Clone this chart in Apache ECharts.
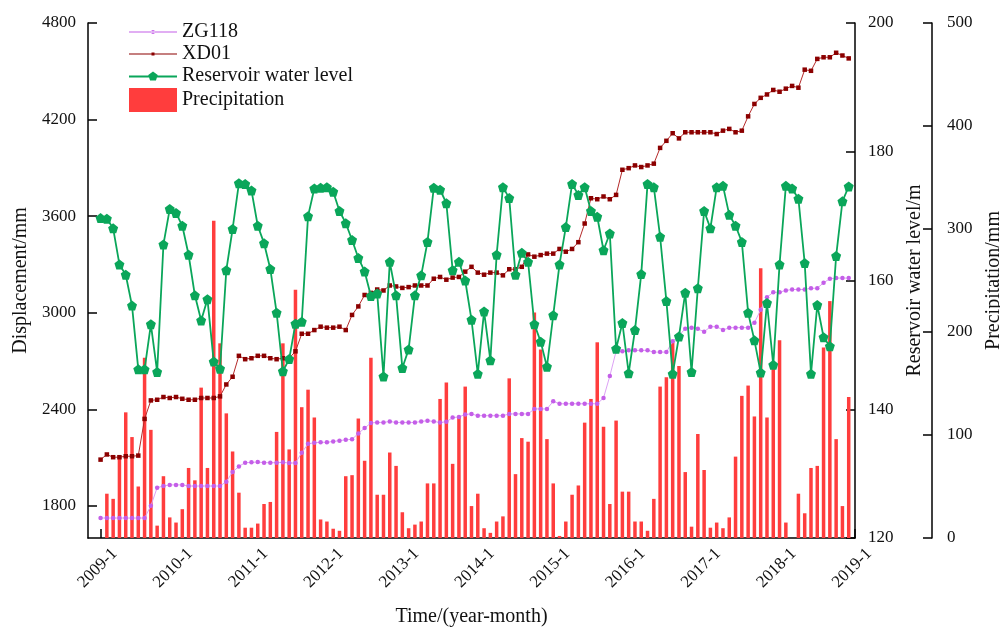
<!DOCTYPE html>
<html><head><meta charset="utf-8">
<script src="https://cdn.jsdelivr.net/npm/echarts@6/dist/echarts.min.js"></script>
<style>html,body{margin:0;padding:0;background:#fff}#c{width:1000px;height:633px}</style>
</head><body><div id="c"></div>
<script>
// Monthly data, index 0 = 2009-1 ... 119 = 2018-12
const yearTicks = ['2009-1','2010-1','2011-1','2012-1','2013-1','2014-1','2015-1','2016-1','2017-1','2018-1','2019-1'];
const dispTicks = [1800,2400,3000,3600,4200,4800];

const zg118 = [1724,1724,1724,1724,1724,1724,1724,1724,1800,1913,1923,1930,1930,1930,1923,1923,1923,1923,1923,1923,
1950,2010,2045,2068,2070,2072,2068,2068,2068,2070,2066,2066,2130,2185,2192,2195,2195,2200,2205,2210,
2213,2250,2283,2315,2318,2318,2324,2318,2318,2318,2318,2324,2329,2324,2318,2322,2348,2352,2368,2371,
2360,2360,2360,2360,2360,2371,2371,2371,2371,2402,2402,2402,2449,2434,2434,2434,2434,2434,2434,2434,
2470,2606,2760,2760,2766,2766,2766,2766,2755,2755,2755,2823,2858,2900,2907,2900,2881,2913,2913,2892,
2907,2907,2907,2907,2938,3018,3096,3127,3127,3138,3144,3144,3144,3152,3152,3186,3211,3215,3215,3215];

const xd01 = [2087,2119,2102,2102,2108,2108,2112,2340,2455,2459,2476,2470,2476,2465,2459,2459,2470,2470,2470,2480,
2554,2602,2732,2711,2717,2732,2732,2717,2711,2717,2717,2760,2869,2869,2892,2913,2907,2907,2913,2892,
2986,3039,3110,3123,3144,3138,3169,3163,3154,3159,3169,3169,3169,3211,3222,3205,3218,3222,3255,3285,
3249,3236,3249,3249,3232,3270,3270,3285,3362,3348,3358,3367,3367,3396,3379,3396,3438,3554,3711,3705,
3722,3705,3732,3888,3898,3915,3905,3915,3926,4024,4068,4115,4083,4121,4121,4121,4121,4121,4110,4131,
4142,4121,4131,4220,4297,4335,4356,4384,4373,4392,4409,4398,4510,4503,4577,4587,4587,4615,4598,4580];

const waterLevel = [169.7,169.6,168.1,162.5,160.9,156.1,146.2,146.2,153.2,145.8,165.6,171.1,170.5,168.5,164.0,157.7,153.8,157.1,147.4,146.3,
161.6,168.0,175.1,175.0,174.0,168.5,165.8,161.8,155.0,145.9,147.8,153.3,153.6,170.0,174.3,174.4,174.5,173.8,170.8,168.9,
166.3,163.5,161.4,157.6,158.0,145.1,162.9,157.7,146.4,149.3,157.7,160.8,166.0,174.4,174.1,172.0,161.6,162.9,160.0,153.9,
145.5,155.2,147.6,164.0,174.5,172.8,160.9,164.3,162.9,153.2,150.5,146.6,154.6,162.5,168.3,175.0,173.3,174.5,170.8,169.9,
164.7,167.3,149.4,153.4,145.6,152.3,161.0,175.0,174.5,166.8,156.8,145.5,151.3,158.1,145.8,158.8,170.8,168.1,174.5,174.7,
170.2,168.5,166.0,155.0,150.7,145.7,156.5,146.9,162.5,174.7,174.3,172.7,162.7,145.5,156.2,151.2,149.8,163.8,172.3,174.6];

const precipitation = [null,43,38,80,122,98,50,175,105,12,60,20,15,28,68,56,146,68,308,189,
121,84,44,10,10,14,33,35,103,189,86,241,127,144,117,18,16,9,7,60,
61,116,75,175,42,42,83,70,25,9.5,13,16,53,53,135,151,72,117,147,31,
43,9.5,5,16,21,155,62,97,93.5,219,183,96,53,2,16,42,51,112,135,190,
108,33,114,45,45,16,16,7,38,147,156,190,167,64,11,101,66,10,15,9.5,
20,79,138,148,118,262,117,170,192,15,0,43,24,68,70,185,230,96,31,137];

const FONT = '"Liberation Serif","Times New Roman",serif';
const TXT = '#111';
const PENTA = 'path://M0,-1L0.951,-0.309L0.588,0.809L-0.588,0.809L-0.951,-0.309Z';
const ICON_ZG = 'path://M0,10.5L48,10.5L48,11.5L0,11.5Z M22,11A2,2,0,1,0,26,11A2,2,0,1,0,22,11Z';
const ICON_XD = 'path://M0,10.5L48,10.5L48,11.5L0,11.5Z M22.5,9.5L25.5,9.5L25.5,12.5L22.5,12.5Z';
const ICON_WL = 'path://M0,10L48,10L48,12L0,12Z M24,6L28.76,9.45L26.94,15.05L21.06,15.05L19.24,9.45Z';

const xTickVals = yearTicks.map((_, i) => i * 12);
const pairs = arr => arr.map((v, i) => [i, v]);

const axisLineStyle = {color:'#000', width:1.5};
const labelStyle = {fontFamily:FONT, fontSize:17, color:TXT};
const nameStyle = {fontFamily:FONT, fontSize:20, color:TXT};
const plain = v => String(v);

const chart = echarts.init(document.getElementById('c'), null, {renderer:'canvas'});
chart.setOption({
  animation:false,
  backgroundColor:'#fff',
  grid:{left:88, right:145, top:23, bottom:95, outerBoundsMode:'none', containLabel:false},
  legend:{
    orient:'vertical', left:124, top:17, itemWidth:48, itemHeight:24, itemGap:2,
    textStyle:{fontFamily:FONT, fontSize:20, color:TXT},
    data:[
      {name:'ZG118', icon:ICON_ZG},
      {name:'XD01', icon:ICON_XD},
      {name:'Reservoir water level', icon:ICON_WL},
      {name:'Precipitation', icon:'rect'}
    ]
  },
  xAxis:{
    type:'value', min:-2, max:120,
    axisLine:{show:true, onZero:false, lineStyle:axisLineStyle},
    axisTick:{show:true, inside:true, length:9, customValues:xTickVals, lineStyle:axisLineStyle},
    axisLabel:Object.assign({customValues:xTickVals, rotate:45, margin:27, align:'center', verticalAlign:'middle',
      formatter:v => yearTicks[Math.round(v/12)] + '\u2002'}, labelStyle),
    splitLine:{show:false},
    name:'Time/(year-month)', nameLocation:'middle', nameGap:69, nameTextStyle:nameStyle
  },
  yAxis:[
    {
      type:'value', position:'left', min:1600, max:4800,
      axisLine:{show:true, onZero:false, lineStyle:axisLineStyle},
      axisTick:{show:true, inside:true, length:9, customValues:dispTicks, lineStyle:axisLineStyle},
      axisLabel:Object.assign({customValues:dispTicks, margin:12, formatter:plain}, labelStyle),
      splitLine:{show:false},
      name:'Displacement/mm', nameLocation:'middle', nameRotate:90, nameGap:48, nameTextStyle:nameStyle
    },
    {
      type:'value', position:'right', min:120, max:200, interval:20,
      axisLine:{show:true, onZero:false, lineStyle:axisLineStyle},
      axisTick:{show:true, inside:true, length:9, lineStyle:axisLineStyle},
      axisLabel:Object.assign({margin:13, formatter:plain}, labelStyle),
      splitLine:{show:false},
      name:'Reservoir water level/m', nameLocation:'middle', nameRotate:90, nameGap:37, nameTextStyle:nameStyle
    },
    {
      type:'value', position:'right', offset:77, min:0, max:500, interval:100,
      axisLine:{show:true, onZero:false, lineStyle:axisLineStyle},
      axisTick:{show:true, inside:true, length:9, lineStyle:axisLineStyle},
      axisLabel:Object.assign({margin:15, formatter:plain}, labelStyle),
      splitLine:{show:false},
      name:'Precipitation/mm', nameLocation:'middle', nameRotate:90, nameGap:46, nameTextStyle:nameStyle
    }
  ],
  series:[
    {name:'Precipitation', type:'bar', yAxisIndex:2, data:pairs(precipitation), barWidth:3.5,
     itemStyle:{color:'#ff3d3d'}, z:1},
    {name:'ZG118', type:'line', yAxisIndex:0, data:pairs(zg118), symbol:'circle', symbolSize:4.5,
     lineStyle:{color:'#dda2f5', width:1}, itemStyle:{color:'#c45ee8'}, z:3},
    {name:'XD01', type:'line', yAxisIndex:0, data:pairs(xd01), symbol:'rect', symbolSize:4.5,
     lineStyle:{color:'#b52a2a', width:1}, itemStyle:{color:'#8b0000'}, z:4},
    {name:'Reservoir water level', type:'line', yAxisIndex:1, data:pairs(waterLevel), symbol:PENTA, symbolSize:10,
     lineStyle:{color:'#0aa65a', width:1.8}, itemStyle:{color:'#0aa65a'}, z:5}
  ]
});
</script></body></html>
